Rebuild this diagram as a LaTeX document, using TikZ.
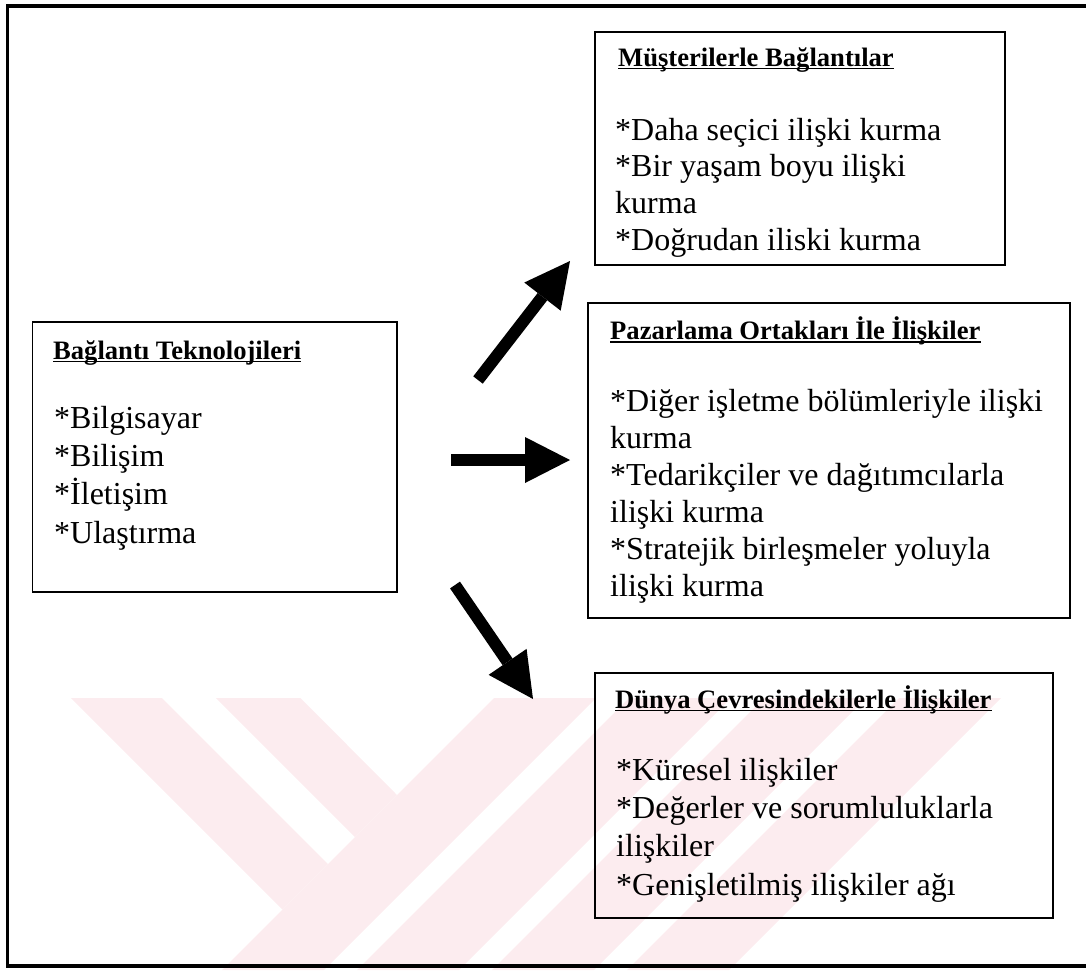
\documentclass[tikz,border=0pt]{standalone}
\usepackage{fontspec}
\setmainfont{Liberation Serif}
\usetikzlibrary{arrows.meta}
\definecolor{wmpink}{RGB}{252,236,239}
\tikzset{
  frame/.style={draw=black, line width=3.5pt},
  box/.style={draw=black, line width=1.8pt, inner sep=0pt},
  title/.style={anchor=base west, inner sep=0pt, font=\fontsize{26.6}{30}\selectfont\bfseries},
  item/.style={anchor=base west, inner sep=0pt, font=\fontsize{32}{37}\selectfont},
  uline/.style={draw=black, line width=1.7pt},
  bigarrow/.style={line width=12pt, -{Triangle[length=45pt,width=46pt,line width=0pt]}},
  wm/.style={fill=wmpink, draw=none},
}
\begin{document}
\begin{tikzpicture}[x=1pt,y=-1pt]
\useasboundingbox (0,0) rectangle (1086,970);

% pale striped emblem in the background
\fill[wm] (71,698) -- (162,698) -- (328,864) -- (282.5,909.5) -- cycle;
\fill[wm] (216,698) -- (300.5,698) -- (397,795) -- (355,837) -- cycle;
\fill[wm] (222,970) -- (324,970) -- (596,698) -- (494,698) -- cycle;
\fill[wm] (357,970) -- (459,970) -- (731,698) -- (629,698) -- cycle;
\fill[wm] (492,970) -- (594,970) -- (866,698) -- (764,698) -- cycle;
\fill[wm] (627,970) -- (729,970) -- (1001,698) -- (899,698) -- cycle;

% outer frame (right side runs past the page edge)
\draw[frame] (7.5,6) rectangle (1100,966);

% boxes
\node[box, minimum width=364.5pt, minimum height=270pt] (bA) at (214.75,457) {};
\node[box, minimum width=410pt, minimum height=233pt] (bB) at (800,148.5) {};
\node[box, minimum width=482pt, minimum height=315pt] (bC) at (829,460.5) {};
\node[box, minimum width=458pt, minimum height=245pt] (bD) at (824,795.5) {};

% Bağlantı Teknolojileri
\node[title] (tA) at (53,359) {Bağlantı Teknolojileri};
\draw[uline] ([yshift=-2.6pt]tA.base west) -- ([yshift=-2.6pt]tA.base east);
\node[item] (a1) at (54,428) {*Bilgisayar};
\node[item] (a2) at (54,466.3) {*Bilişim};
\node[item] (a3) at (54,504.6) {*İletişim};
\node[item] (a4) at (54,543) {*Ulaştırma};

% Müşterilerle Bağlantılar
\node[title] (tB) at (618,66) {Müşterilerle Bağlantılar};
\draw[uline] ([yshift=-2.6pt]tB.base west) -- ([yshift=-2.6pt]tB.base east);
\node[item] (b1) at (615,140) {*Daha seçici ilişki kurma};
\node[item] (b2) at (615,176.7) {*Bir yaşam boyu ilişki};
\node[item] (b3) at (615,213.3) {kurma};
\node[item] (b4) at (615,250) {*Doğrudan iliski kurma};

% Pazarlama Ortakları İle İlişkiler
\node[title] (tC) at (610,339.5) {Pazarlama Ortakları İle İlişkiler};
\draw[uline] ([yshift=-2.6pt]tC.base west) -- ([yshift=-2.6pt]tC.base east);
\node[item] (c1) at (610,411.5) {*Diğer işletme bölümleriyle ilişki};
\node[item] (c2) at (610,448.5) {kurma};
\node[item] (c3) at (610,485.5) {*Tedarikçiler ve dağıtımcılarla};
\node[item] (c4) at (610,522.5) {ilişki kurma};
\node[item] (c5) at (610,559.5) {*Stratejik birleşmeler yoluyla};
\node[item] (c6) at (610,596.5) {ilişki kurma};

% Dünya Çevresindekilerle İlişkiler
\node[title] (tD) at (615,708) {Dünya Çevresindekilerle İlişkiler};
\draw[uline] ([yshift=-2.6pt]tD.base west) -- ([yshift=-2.6pt]tD.base east);
\node[item] (d1) at (616,780) {*Küresel ilişkiler};
\node[item] (d2) at (616,818.3) {*Değerler ve sorumluluklarla};
\node[item] (d3) at (616,856.6) {ilişkiler};
\node[item] (d4) at (616,895) {*Genişletilmiş ilişkiler ağı};

% arrows
\coordinate (up0) at (478,380);
\coordinate (up1) at (570,261);
\coordinate (mid0) at (451,460);
\coordinate (mid1) at (570,460);
\coordinate (dn0) at (455,585);
\coordinate (dn1) at (533,699);
\draw[bigarrow] (up0) -- (up1);
\draw[bigarrow] (mid0) -- (mid1);
\draw[bigarrow] (dn0) -- (dn1);
\end{tikzpicture}
\end{document}
